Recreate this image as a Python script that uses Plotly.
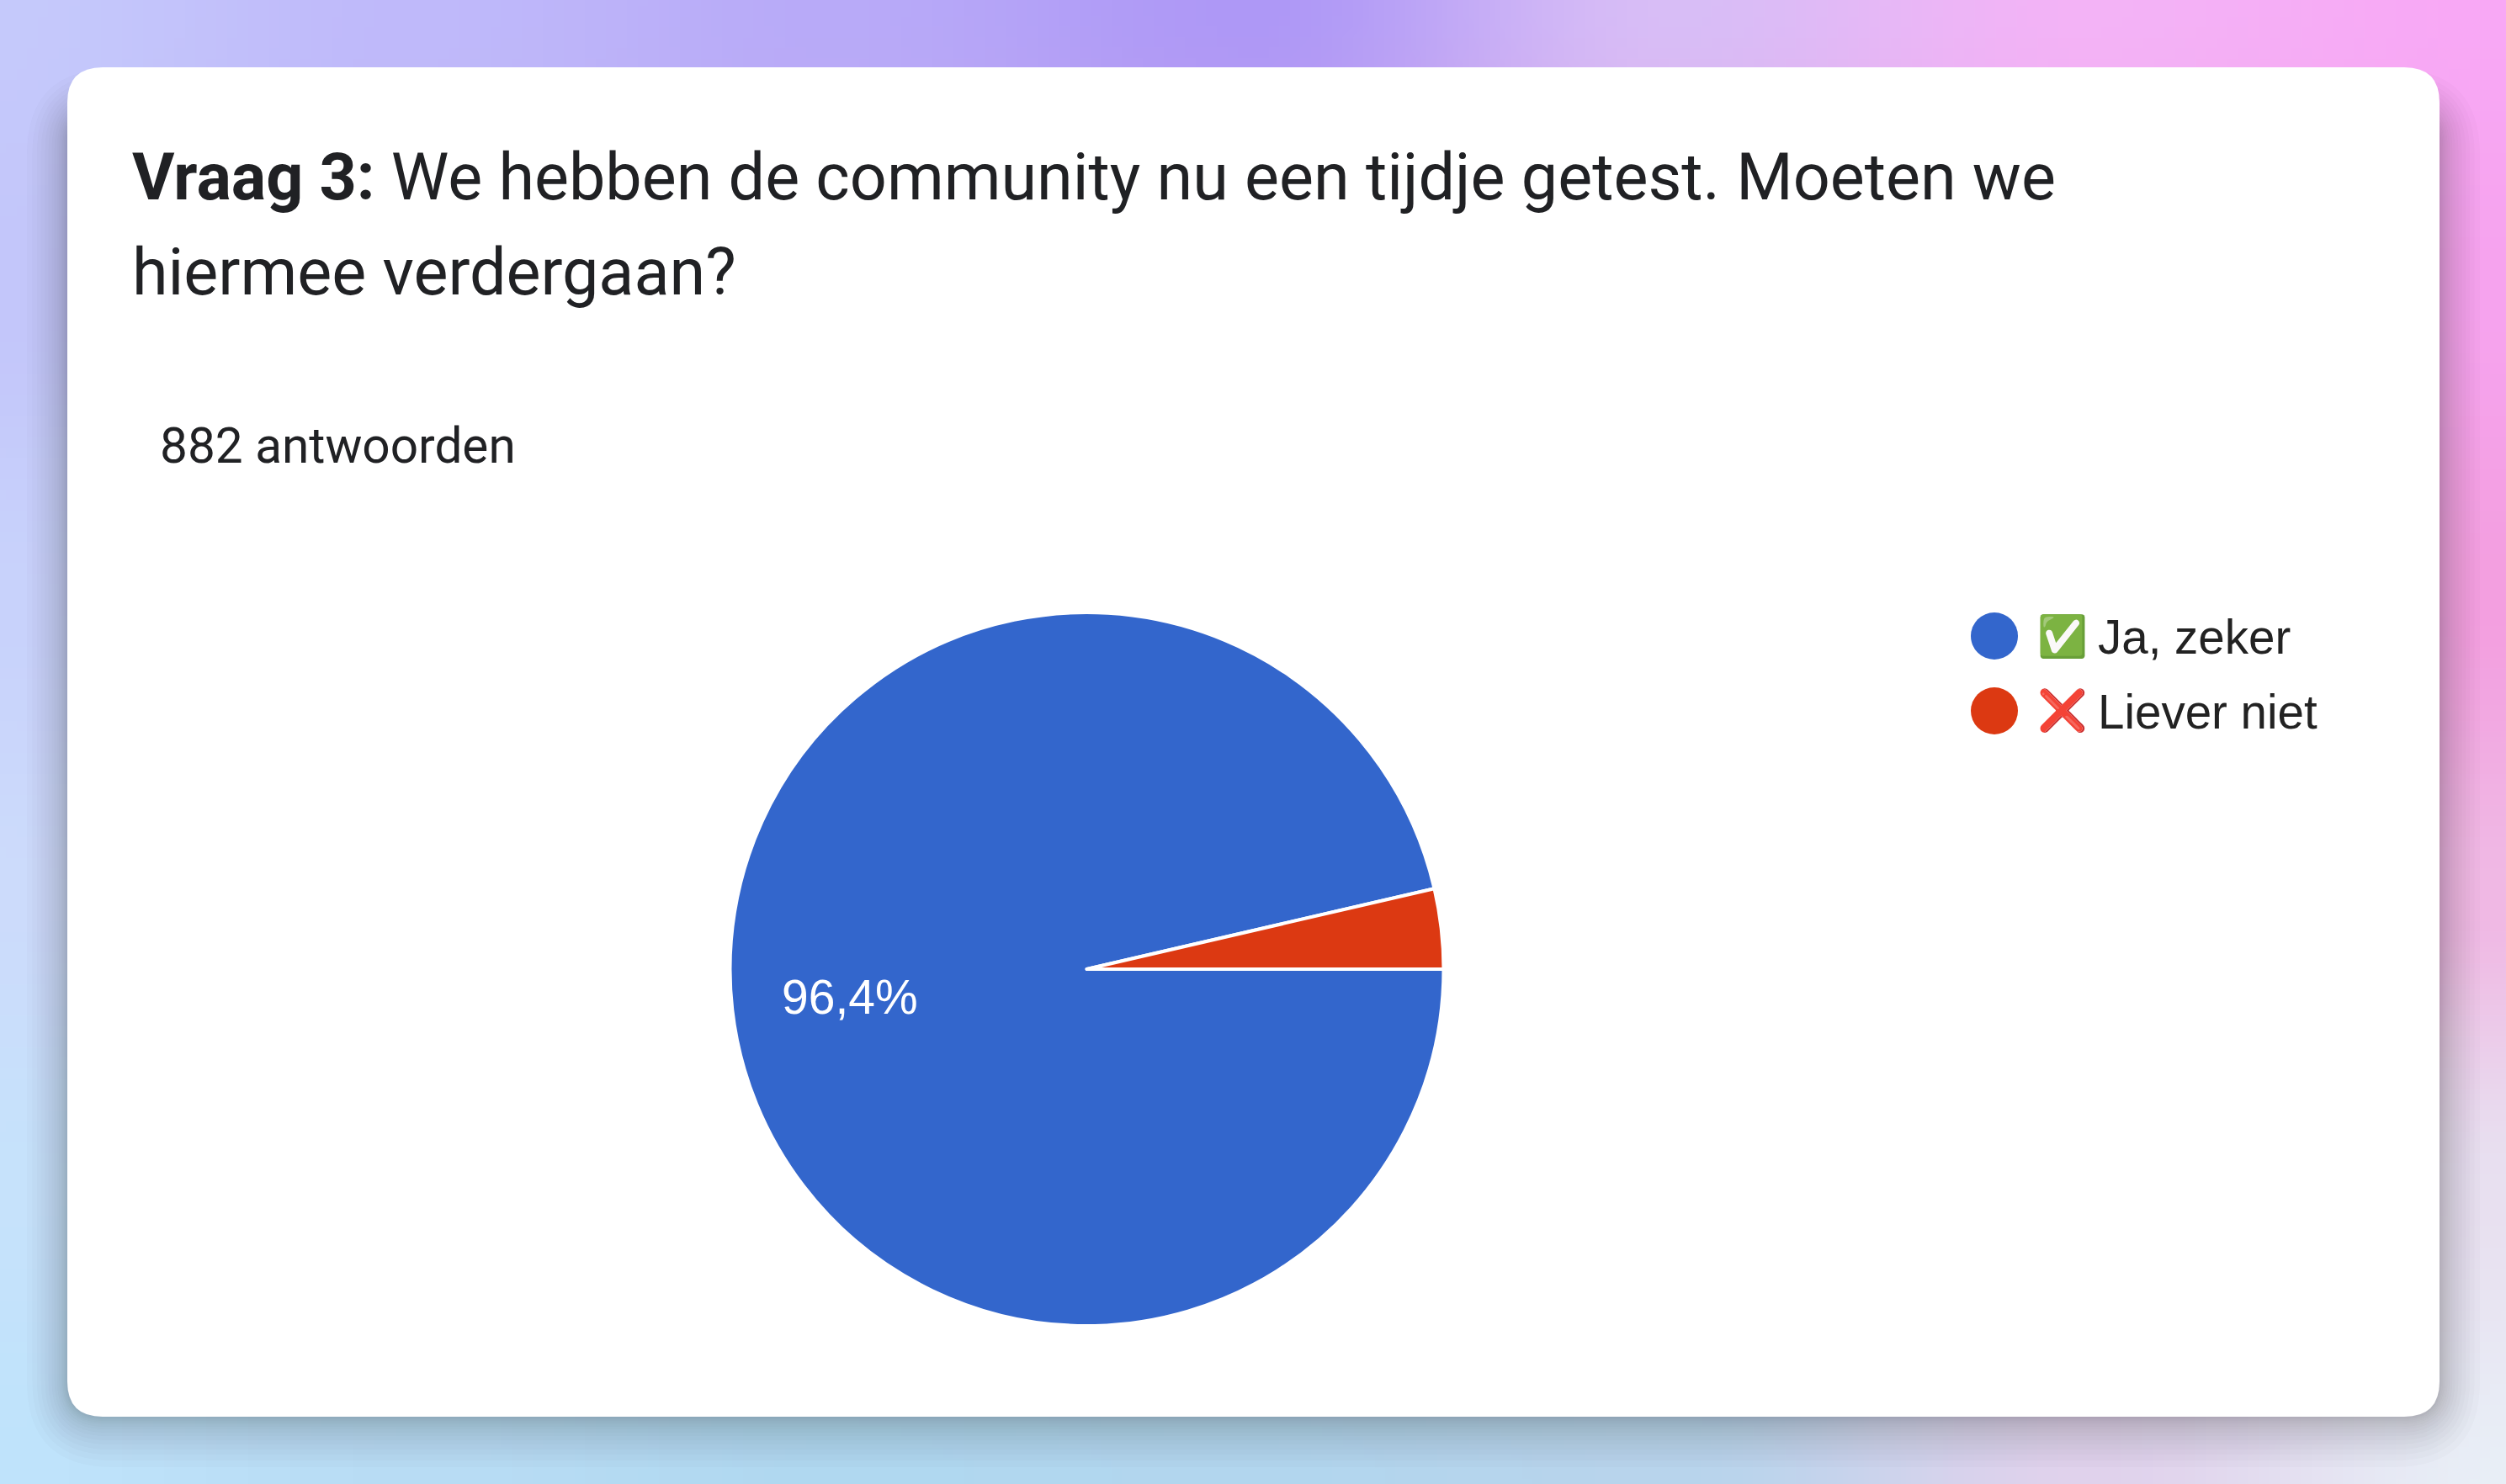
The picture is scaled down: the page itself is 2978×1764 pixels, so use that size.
import base64
import struct
import zlib

import numpy as np
import plotly.graph_objects as go

W, H = 2978, 1764

names = ["Ja, zeker", "Liever niet"]
icons = ["✅", "❌"]
values = [850, 32]
colors = ["#3366cc", "#dc3912"]
title_lines = ["<b>Vraag 3:</b> We hebben de community nu een tijdje getest. Moeten we", "hiermee verdergaan?"]
count_label = "882 antwoorden"
share_label = f"{values[0] / sum(values):.1%}".replace(".", ",")

bg_rows = [
    ["#c5c9fb", "#bfb9fa", "#b8aaf8", "#ae98f6", "#d8bdf6", "#f3b3f6", "#f8a8f5"],
    ["#c3c6fa", "#bdb6f5", "#c0a8ee", "#c8a0ea", "#e0a8e8", "#f0a5ea", "#f6a3ee"],
    ["#c8d2fb", "#c4c8f4", "#c8b8ec", "#d0b0e8", "#e0b0e4", "#eca6e0", "#f39fe0"],
    ["#ccdbfb", "#c8d4f4", "#c8c8ec", "#d0c0e8", "#dcc0e4", "#e8b8e0", "#f0b8e4"],
    ["#c6e2fb", "#c0dcf4", "#bcd4f0", "#c0d2ec", "#c8d0ea", "#e0d4ec", "#e8e0f0"],
    ["#bfe3fb", "#b8dcf4", "#b0d8f0", "#b2d6ee", "#b8d4ec", "#e0d2ec", "#e8eef6"],
]


def hex_rgb(c):
    return [int(c[i:i + 2], 16) for i in (1, 3, 5)]


def backdrop_png(rows, w=238, h=141):
    grid = np.array([[hex_rgb(c) for c in r] for r in rows], dtype=float)
    gy = np.linspace(0, grid.shape[0] - 1, h)
    gx = np.linspace(0, grid.shape[1] - 1, w)
    y0 = np.clip(gy.astype(int), 0, grid.shape[0] - 2)
    x0 = np.clip(gx.astype(int), 0, grid.shape[1] - 2)
    ty = (gy - y0)[:, None, None]
    tx = (gx - x0)[None, :, None]
    ty = ty * ty * (3 - 2 * ty)
    tx = tx * tx * (3 - 2 * tx)
    a = grid[y0][:, x0]
    b = grid[y0][:, x0 + 1]
    c = grid[y0 + 1][:, x0]
    d = grid[y0 + 1][:, x0 + 1]
    img = (a * (1 - tx) + b * tx) * (1 - ty) + (c * (1 - tx) + d * tx) * ty
    img = img.round().astype(np.uint8)
    raw = b"".join(b"\x00" + row.tobytes() for row in img)

    def chunk(tag, data):
        body = tag + data
        return struct.pack(">I", len(data)) + body + struct.pack(">I", zlib.crc32(body))

    png = b"\x89PNG\r\n\x1a\n" + chunk(b"IHDR", struct.pack(">IIBBBBB", w, h, 8, 2, 0, 0, 0))
    png += chunk(b"IDAT", zlib.compress(raw)) + chunk(b"IEND", b"")
    return "data:image/png;base64," + base64.b64encode(png).decode()


def rounded(x0, y0, x1, y1, r):
    # pixel box to a paper-space rounded rectangle (y flipped)
    fx = lambda v: v / W
    fy = lambda v: 1 - v / H
    rx, ry = r / W, r / H
    return (
        f"M{fx(x0) + rx},{fy(y0)} L{fx(x1) - rx},{fy(y0)} Q{fx(x1)},{fy(y0)} {fx(x1)},{fy(y0) - ry} "
        f"L{fx(x1)},{fy(y1) + ry} Q{fx(x1)},{fy(y1)} {fx(x1) - rx},{fy(y1)} "
        f"L{fx(x0) + rx},{fy(y1)} Q{fx(x0)},{fy(y1)} {fx(x0)},{fy(y1) + ry} "
        f"L{fx(x0)},{fy(y0) - ry} Q{fx(x0)},{fy(y0)} {fx(x0) + rx},{fy(y0)} Z"
    )


cx, cy, rad = 1291.5, 1152, 424

fig = go.Figure(go.Pie(
    labels=[f"{i} {n}" for i, n in zip(icons, names)],
    values=values,
    sort=False,
    direction="clockwise",
    rotation=90,
    marker=dict(colors=colors, line=dict(color="white", width=4)),
    textinfo="none",
    showlegend=False,
    hoverinfo="skip",
    domain=dict(x=[(cx - rad) / W, (cx + rad) / W], y=[1 - (cy + rad) / H, 1 - (cy - rad) / H]),
))

shapes = []
# soft drop shadow under the card: wide faint layers, denser near the edge
for e in [60, 52, 45, 39, 33, 28, 23, 19, 15, 12, 9, 7, 5, 3, 2]:
    shapes.append(dict(type="path", xref="paper", yref="paper", layer="below", line_width=0,
                       path=rounded(80 - e * 0.8, 80 + 50 - e * 0.8, 2899 + e * 0.8, 1684 + e, 42 + e),
                       fillcolor="rgba(60,40,70,0.021)"))
shapes.append(dict(type="path", xref="paper", yref="paper", layer="below", line_width=0,
                   path=rounded(80, 80, 2899, 1684, 42), fillcolor="#ffffff"))

# legend dots
for yc, col in zip([756, 845], colors):
    shapes.append(dict(type="circle", xref="paper", yref="paper", line_width=0, fillcolor=col,
                       x0=2342 / W, x1=2398 / W, y0=1 - (yc + 28) / H, y1=1 - (yc - 28) / H))

annotations = [
    dict(text=title_lines[0], x=155 / W, y=1 - 210 / H, font=dict(family="Roboto", size=77.3, color="#202124")),
    dict(text=title_lines[1], x=155 / W, y=1 - 324 / H, font=dict(family="Roboto", size=77.3, color="#202124")),
    dict(text=count_label, x=188 / W, y=1 - 530 / H, font=dict(family="Roboto", size=58.5, color="#202124")),
    dict(text=icons[0], x=2419 / W, y=1 - 756 / H, font=dict(family="Liberation Sans", size=48, color="#222222")),
    dict(text=icons[1], x=2419 / W, y=1 - 845 / H, font=dict(family="Liberation Sans", size=48, color="#222222")),
    dict(text=names[0], x=2491 / W, y=1 - 757 / H, font=dict(family="Liberation Sans", size=56.5, color="#222222")),
    dict(text=names[1], x=2491 / W, y=1 - 846 / H, font=dict(family="Liberation Sans", size=56.5, color="#222222")),
    dict(text=share_label, x=927 / W, y=1 - 1185 / H, font=dict(family="Liberation Sans", size=57, color="#ffffff")),
]
for a in annotations:
    a.update(xref="paper", yref="paper", xanchor="left", yanchor="middle", showarrow=False, align="left")

fig.update_layout(
    width=W,
    height=H,
    margin=dict(l=0, r=0, t=0, b=0),
    paper_bgcolor="#ffffff",
    images=[dict(source=backdrop_png(bg_rows), xref="paper", yref="paper", x=0, y=1, sizex=1, sizey=1,
                 xanchor="left", yanchor="top", sizing="stretch", layer="below")],
    shapes=shapes,
    annotations=annotations,
)

fig.write_html("out.html", config=dict(displayModeBar=False), post_script="document.body.style.margin='0';")
